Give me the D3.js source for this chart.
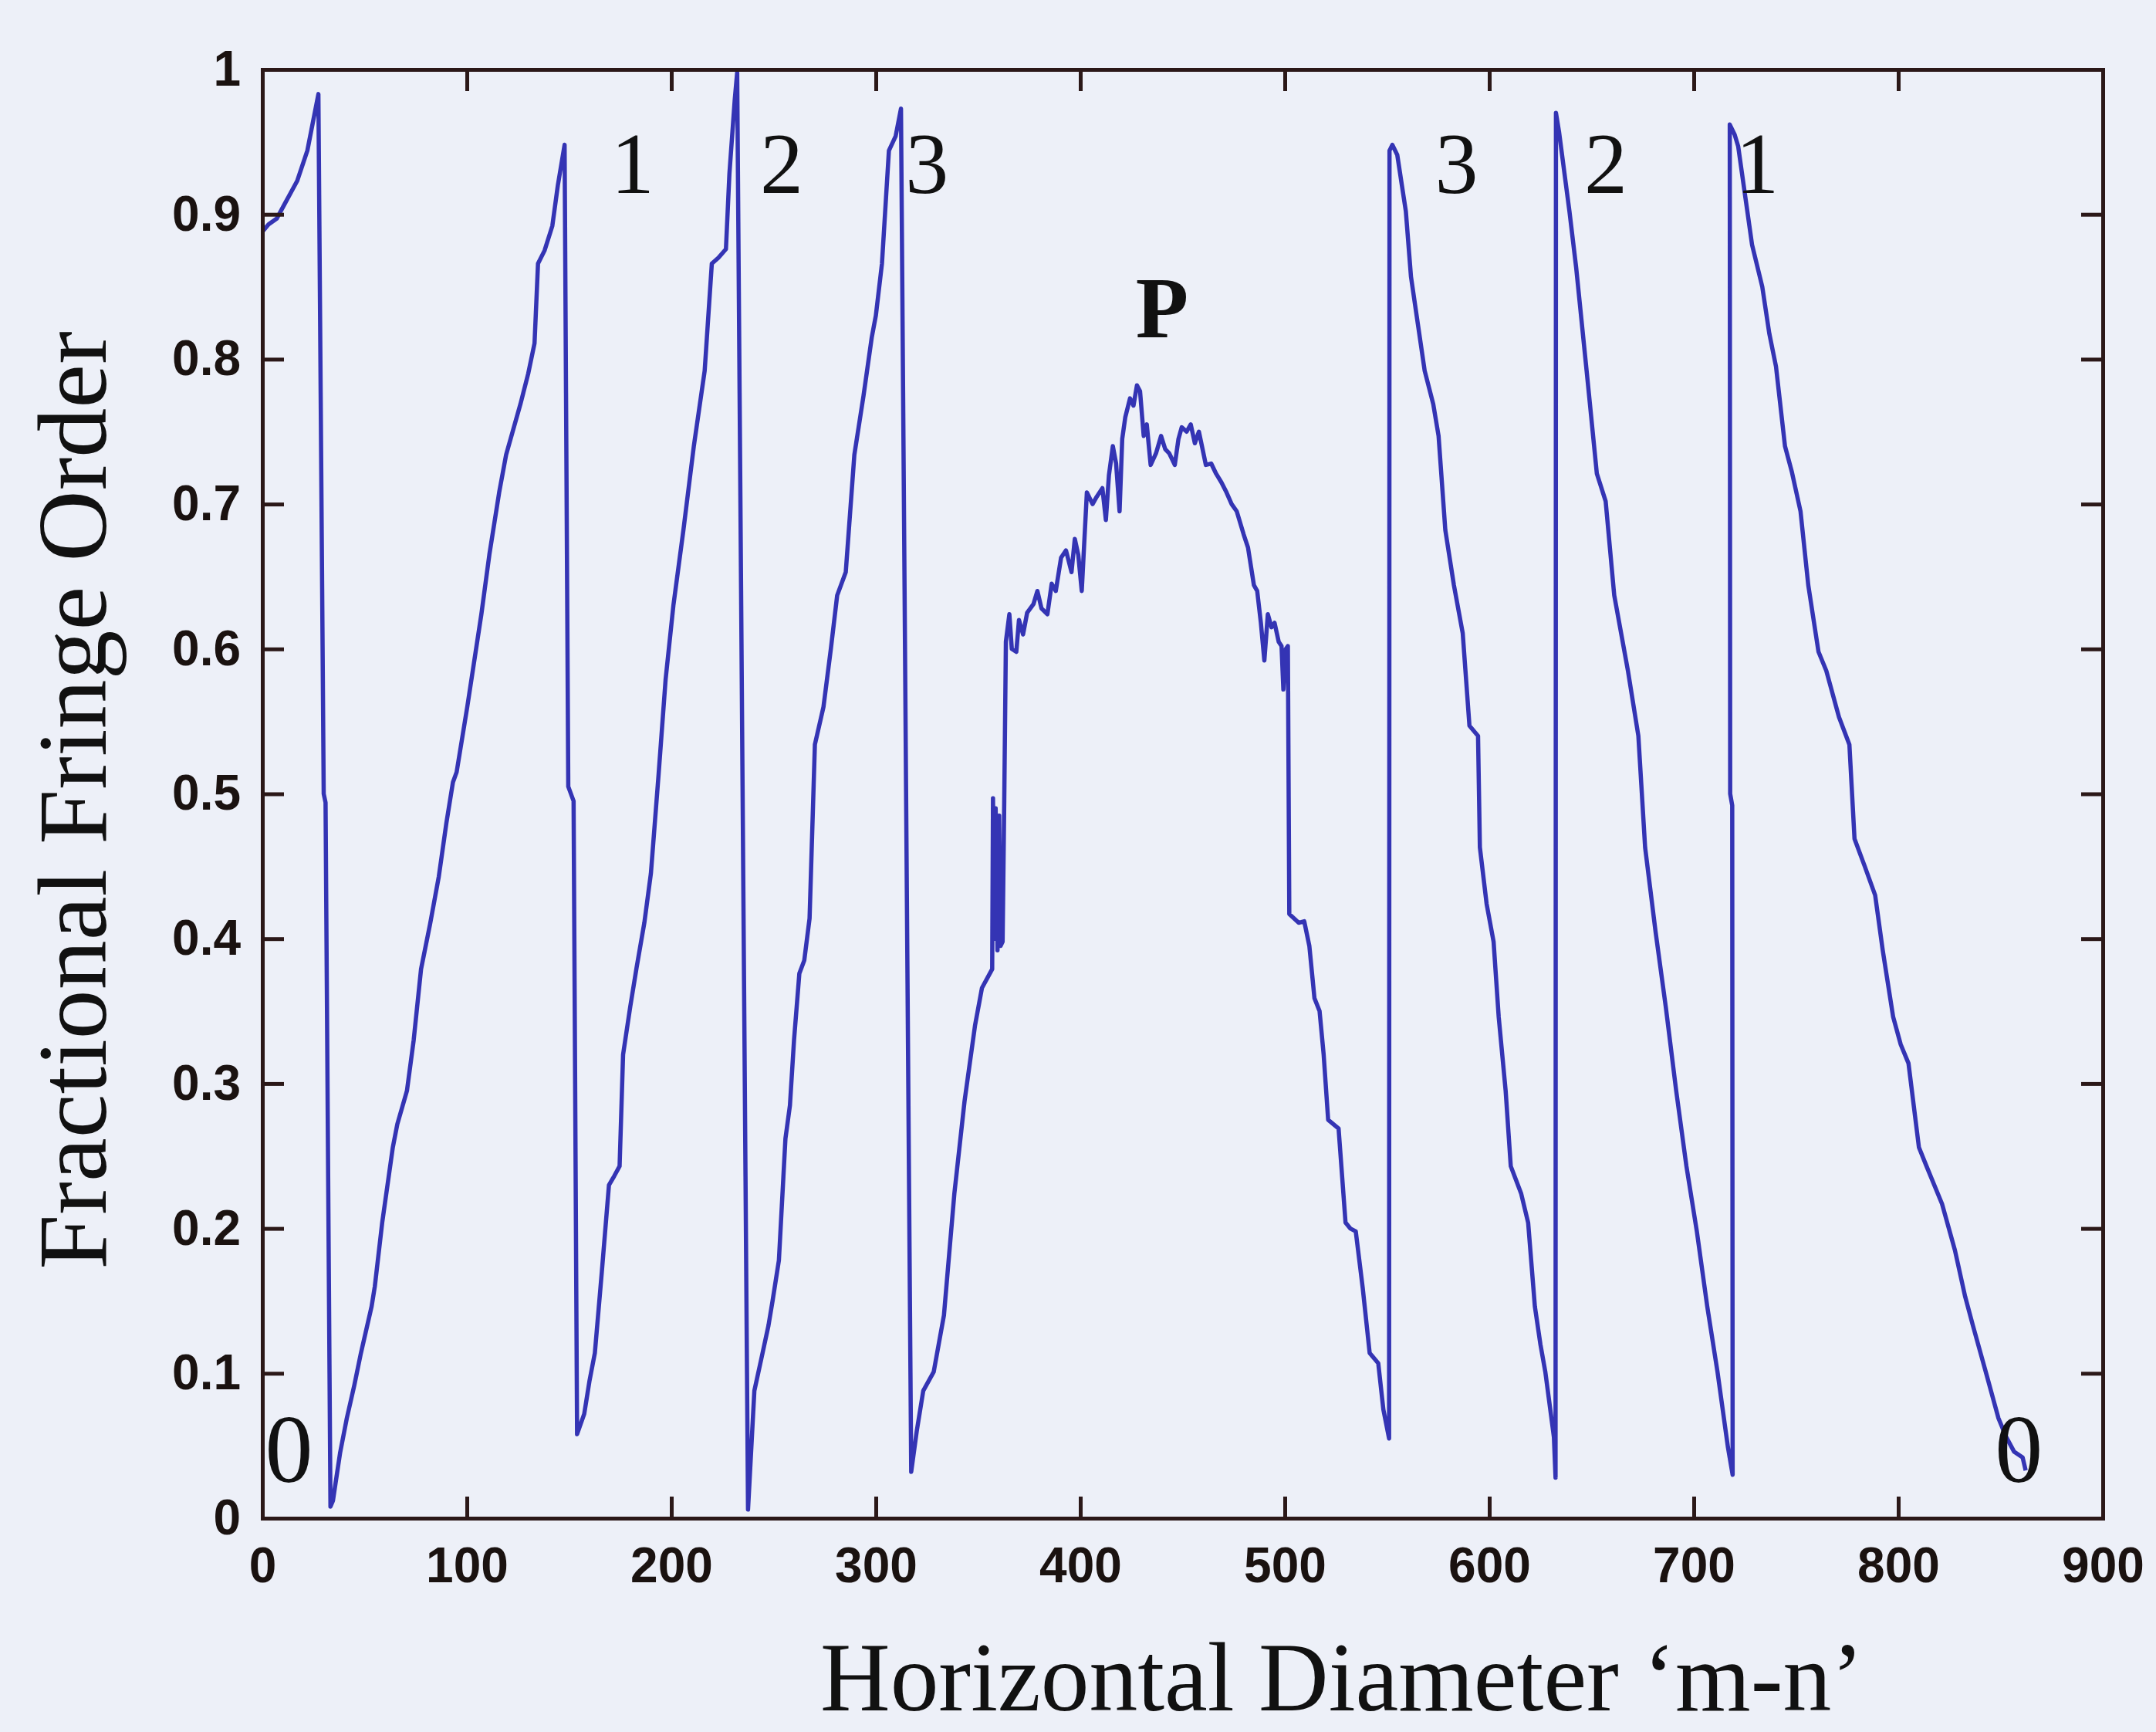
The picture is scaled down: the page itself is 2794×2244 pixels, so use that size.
<!DOCTYPE html>
<html>
<head>
<meta charset="utf-8">
<script src="https://cdn.jsdelivr.net/npm/d3@7"></script>
<style>
  html, body { margin: 0; padding: 0; background: #edf0f8; }
  svg { display: block; }
  .axis path, .axis line { stroke: #2b1818; stroke-width: 5; }
  .axis text { font-family: 'Liberation Sans', Arial, sans-serif; font-weight: bold;
    font-size: 64px; fill: #1a1210; }
  .curve { fill: none; stroke: #3434b4; stroke-width: 5.5; stroke-linejoin: round; }
  .title { font-family: 'Liberation Serif', 'Times New Roman', serif; fill: #111; }
  .order-label { font-family: 'Liberation Serif', 'Times New Roman', serif; fill: #111; }
</style>
</head>
<body>
<script>
/* global d3 */

let X_TICKS = [0, 100, 200, 300, 400, 500, 600, 700, 800, 900]
let Y_TICKS = [0, 0.1, 0.2, 0.3, 0.4, 0.5, 0.6, 0.7, 0.8, 0.9, 1]
let X_TITLE = 'Horizontal Diameter \u2018m-n\u2019'
let Y_TITLE = 'Fractional Fringe Order'

// fringe order labels: [text, x in data units, y in data units]
let ORDER_LABELS = [
  ['0', 13, 0.025], ['1', 181, 0.915], ['2', 254, 0.915], ['3', 325, 0.915],
  ['P', 440, 0.815], ['3', 584, 0.915], ['2', 657, 0.915], ['1', 731, 0.915],
  ['0', 859, 0.025],
]

// fractional fringe order along the diameter
let FRINGE_ORDER = [
  [0, 0.888], [3, 0.893], [7, 0.897], [12, 0.910], [17, 0.923], [22, 0.944],
  [27.4, 0.983], [30.0, 0.500], [30.9, 0.494], [33.3, 0.008],
  [34.5, 0.012], [38, 0.045], [41.3, 0.069], [45, 0.092], [48.2, 0.114],
  [53.4, 0.146], [55, 0.160], [58.6, 0.204], [63.8, 0.256], [66, 0.272],
  [70.7, 0.295], [74, 0.330], [77.6, 0.379], [82, 0.410], [86.3, 0.443],
  [90, 0.480], [93.2, 0.508], [95, 0.515], [100.2, 0.560], [107.1, 0.624],
  [111, 0.665], [115.8, 0.708], [119.2, 0.734], [126.2, 0.769], [130, 0.790],
  [133.1, 0.811], [134.8, 0.866], [138, 0.875], [141.8, 0.892], [144.5, 0.920],
  [147.8, 0.948], [149.6, 0.505], [152.2, 0.495], [153.9, 0.058], [157.4, 0.072],
  [160, 0.095], [162.6, 0.114], [166, 0.170], [169.5, 0.230], [172, 0.236],
  [174.7, 0.243], [176.4, 0.320], [179.9, 0.353], [183, 0.380], [186.8, 0.411],
  [190, 0.445], [193.8, 0.514], [197.2, 0.579], [201, 0.630], [205.9, 0.682],
  [211, 0.740], [216.3, 0.792], [219.8, 0.866], [223, 0.870], [226.7, 0.876],
  [228.4, 0.928], [231, 0.979], [232.2, 0.998], [237.5, 0.006],
  [240.6, 0.088], [244, 0.110], [247.5, 0.133], [249.5, 0.150], [252.6, 0.178],
  [255.8, 0.262], [258, 0.285], [260, 0.330], [262.6, 0.376], [265, 0.385],
  [267.6, 0.414], [270.2, 0.534], [274.4, 0.560], [278, 0.600], [281.1, 0.637],
  [285.3, 0.653], [289.5, 0.734], [294, 0.775], [298, 0.815], [300, 0.830],
  [303, 0.866], [306.4, 0.944], [309.7, 0.954], [312.3, 0.973],
  [314.8, 0.501], [317.3, 0.032],
  [320, 0.060], [323.2, 0.088], [328.3, 0.101], [333.3, 0.140], [338.4, 0.224],
  [343.4, 0.288], [348.5, 0.340], [351.9, 0.366], [356.9, 0.379],
  [357.3, 0.497], [358, 0.400], [358.6, 0.490], [359.5, 0.392], [360.3, 0.485],
  [361, 0.395], [362, 0.398], [362.8, 0.495], [363.6, 0.605],
  [365.3, 0.624], [366.5, 0.600], [368.7, 0.598], [370, 0.620], [372, 0.610],
  [374, 0.625], [377.1, 0.631], [379, 0.640], [381, 0.628], [383.9, 0.624],
  [386, 0.645], [388, 0.640], [390.6, 0.663], [393, 0.668], [395.7, 0.653],
  [397.3, 0.676], [399, 0.665], [400.7, 0.640], [403.2, 0.708], [406, 0.700],
  [408, 0.705], [410.8, 0.711], [412.5, 0.689], [414, 0.720], [415.9, 0.740],
  [417.5, 0.728], [419.2, 0.695], [420.5, 0.745], [422, 0.760], [424.3, 0.773],
  [426, 0.768], [427.7, 0.782], [429.2, 0.778], [431, 0.747], [432.5, 0.755],
  [434.4, 0.727], [437, 0.735], [439.5, 0.747], [441.5, 0.738], [443.5, 0.735],
  [446.2, 0.727], [448, 0.745], [449.6, 0.753], [452, 0.750], [454, 0.755],
  [456, 0.742], [458, 0.750], [461.4, 0.727], [464, 0.728], [466.4, 0.721],
  [469, 0.715], [471.5, 0.708], [474, 0.700], [476.5, 0.695], [479.9, 0.679],
  [482, 0.670], [484.9, 0.644], [486.5, 0.640], [488.3, 0.618], [490, 0.592],
  [491.7, 0.624], [493.5, 0.615], [495, 0.618], [497, 0.605], [498.4, 0.602],
  [499.3, 0.572], [500.5, 0.600], [501.5, 0.602], [502.2, 0.417],
  [506.8, 0.411], [509.5, 0.412], [512, 0.395], [514.5, 0.359], [517, 0.350],
  [519, 0.320], [521.2, 0.275], [526.3, 0.269], [529.7, 0.204], [532, 0.200],
  [534.7, 0.198], [538.1, 0.159], [541.5, 0.114], [545.7, 0.107], [548.2, 0.075],
  [551.0, 0.055], [551.2, 0.944], [552.6, 0.948], [555, 0.941],
  [559.2, 0.902], [561.7, 0.857], [565.1, 0.824], [568.4, 0.792], [572.6, 0.769],
  [575.2, 0.747], [578.5, 0.682], [582.7, 0.644], [587, 0.611], [590.3, 0.547],
  [594.5, 0.540], [595.4, 0.463], [598.7, 0.424], [602.1, 0.398], [604.6, 0.346],
  [608, 0.295], [610.5, 0.243], [615.6, 0.224], [619, 0.204], [622.3, 0.146],
  [625, 0.120], [627.4, 0.101], [631.6, 0.056], [632.4, 0.028],
  [632.6, 0.970], [634.1, 0.957],
  [639.2, 0.902], [642.5, 0.863], [647.6, 0.792], [652.6, 0.721], [656.9, 0.702],
  [661.1, 0.637], [667.8, 0.585], [672.9, 0.540], [676.2, 0.463], [681.3, 0.405],
  [686.3, 0.353], [691.4, 0.295], [696.4, 0.243], [701.5, 0.198], [706.6, 0.146],
  [711.6, 0.101], [716.7, 0.049], [719.0, 0.030],
  [718.8, 0.492], [717.8, 0.500], [717.6, 0.962], [720, 0.955], [721.7, 0.947],
  [728.5, 0.879], [733.5, 0.850], [736.9, 0.818], [740.2, 0.795], [744.6, 0.740],
  [748, 0.722], [752.2, 0.695], [756, 0.644], [761, 0.598], [764.8, 0.585],
  [771, 0.553], [776.1, 0.534], [778.6, 0.469], [783.6, 0.450], [788.7, 0.430],
  [792.4, 0.392], [797.5, 0.346], [801.2, 0.327], [805, 0.314], [810.1, 0.256],
  [813.8, 0.243], [821.4, 0.217], [827.7, 0.185], [832.7, 0.153], [836.5, 0.133],
  [842.8, 0.101], [849, 0.069], [852.8, 0.056], [856.6, 0.046], [860.8, 0.042],
  [862.3, 0.033],
]

function genDimensions () {
  let outer = {width: 2794, height: 2244}
  let frame = {left: 340, top: 90, right: 2725, bottom: 1967}
  let chart = {width: frame.right - frame.left, height: frame.bottom - frame.top}
  return {outer, frame, chart}
}

function main () {
  let dims = genDimensions()
  let svg = d3.select('body').append('svg')
    .attr('width', dims.outer.width)
    .attr('height', dims.outer.height)

  svg.append('rect')
    .attr('width', dims.outer.width)
    .attr('height', dims.outer.height)
    .attr('fill', '#edf0f8')

  let chartRoot = svg.append('g')
    .attr('transform', `translate(${dims.frame.left}, ${dims.frame.top})`)

  let scales = {
    x: d3.scaleLinear().domain([0, 900]).range([0, dims.chart.width]),
    y: d3.scaleLinear().domain([0, 1]).range([dims.chart.height, 0]),
  }

  renderCurve(chartRoot, scales)
  renderAxes(chartRoot, scales, dims)
  renderOrderLabels(chartRoot, scales)
  renderTitles(svg)
}

function renderAxes (chartRoot, scales, dims) {
  let tick = 28
  let fmt = d3.format('')

  chartRoot.append('g')
    .classed('axis', true)
    .attr('transform', `translate(0, ${dims.chart.height})`)
    .call(d3.axisBottom(scales.x).tickValues(X_TICKS).tickFormat(fmt)
      .tickSizeInner(-tick).tickSizeOuter(0).tickPadding(38))

  chartRoot.append('g')
    .classed('axis', true)
    .call(d3.axisTop(scales.x).tickValues(X_TICKS).tickFormat('')
      .tickSizeInner(-tick).tickSizeOuter(0))

  chartRoot.append('g')
    .classed('axis', true)
    .call(d3.axisLeft(scales.y).tickValues(Y_TICKS).tickFormat(fmt)
      .tickSizeInner(-tick).tickSizeOuter(0).tickPadding(28))

  chartRoot.append('g')
    .classed('axis', true)
    .attr('transform', `translate(${dims.chart.width}, 0)`)
    .call(d3.axisRight(scales.y).tickValues(Y_TICKS).tickFormat('')
      .tickSizeInner(-tick).tickSizeOuter(0))

  // matlab style: no ticks drawn on the frame corners
  chartRoot.selectAll('.axis .tick')
    .filter(d => d === 0 || d === 900 || d === 1)
    .select('line').remove()
  chartRoot.selectAll('.axis path').attr('stroke-linecap', 'square')
}

function renderCurve (chartRoot, scales) {
  chartRoot.append('path')
    .datum(FRINGE_ORDER)
    .classed('curve', true)
    .attr('d', d3.line()
      .x(d => scales.x(d[0]))
      .y(d => scales.y(d[1])))
}

function renderOrderLabels (chartRoot, scales) {
  chartRoot.selectAll('text.order-label')
    .data(ORDER_LABELS)
    .enter()
    .append('text')
    .classed('order-label', true)
    .attr('x', d => scales.x(d[1]))
    .attr('y', d => scales.y(d[2]))
    .attr('text-anchor', 'middle')
    .attr('font-size', d => (d[0] === '0') ? 124 : 112)
    .attr('font-weight', d => (d[0] === 'P') ? 'bold' : 'normal')
    .text(d => d[0])
}

function renderTitles (svg) {
  svg.append('text')
    .classed('title', true)
    .attr('x', 1063)
    .attr('y', 2216)
    .attr('font-size', 126)
    .attr('textLength', 1352)
    .attr('lengthAdjust', 'spacingAndGlyphs')
    .text(X_TITLE)

  svg.append('text')
    .classed('title', true)
    .attr('transform', 'translate(137, 1037) rotate(-90)')
    .attr('text-anchor', 'middle')
    .attr('font-size', 128)
    .text(Y_TITLE)
}

main()
</script>
</body>
</html>
